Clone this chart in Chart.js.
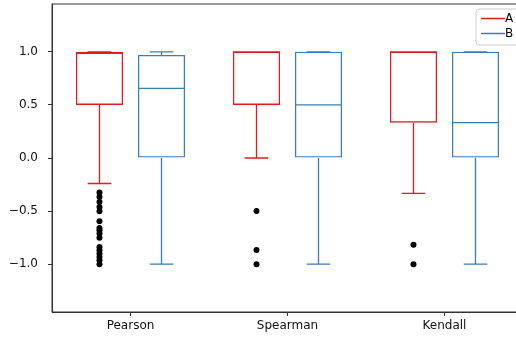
<!DOCTYPE html>
<html>
<head>
<meta charset="utf-8">
<script src="https://cdn.jsdelivr.net/npm/chart.js@4.4.1/dist/chart.umd.min.js"></script>
<style>
  html, body { margin: 0; padding: 0; overflow: hidden; background: #fff; }
  #wrap { width: 526px; height: 339px; }
</style>
</head>
<body>
<div id="wrap"><canvas id="boxChart" width="526" height="339"></canvas></div>
<script>
// kategorie a hodnoty krabicových grafů
const categories = ['Pearson', 'Spearman', 'Kendall'];
const seriesNames = ['A', 'B'];
const seriesColors = ['#e41a1c', '#377eb8'];
const yTicks = [-1.0, -0.5, 0.0, 0.5, 1.0];

const aLow = [-0.24, 0.0, -0.333];
const aQ1 = [0.5, 0.5, 0.333];
const aMedian = [0.985, 1.0, 1.0];
const aQ3 = [1.0, 1.0, 1.0];
const aHigh = [1.0, 1.0, 1.0];
const aOutliers = [
    [-0.326, -0.367, -0.414, -0.461, -0.502, -0.596, -0.658, -0.68, -0.712, -0.752,
     -0.837, -0.868, -0.9, -0.931, -0.962, -1.0],
    [-0.5, -0.866, -1.0],
    [-0.816, -1.0]
];

const bLow = [-1.0, -1.0, -1.0];
const bQ1 = [0.0, 0.0, 0.0];
const bMedian = [0.655, 0.5, 0.333];
const bQ3 = [0.97, 1.0, 1.0];
const bHigh = [1.0, 1.0, 1.0];
const bOutliers = [[], [], []];

const stats = [
    { low: aLow, q1: aQ1, med: aMedian, q3: aQ3, high: aHigh, out: aOutliers },
    { low: bLow, q1: bQ1, med: bMedian, q3: bQ3, high: bHigh, out: bOutliers }
];

const fmt = v => v.toFixed(1).replace('-', '\u2212');

// whiskery, mediány, odlehlé body, rámeček a legenda
const boxExtras = {
    id: 'boxExtras',
    afterDatasetsDraw(chart) {
        const ctx = chart.ctx;
        const y = chart.scales.y;
        const area = chart.chartArea;
        ctx.save();
        stats.forEach((s, i) => {
            const meta = chart.getDatasetMeta(i);
            meta.data.forEach((bar, j) => {
                const x = bar.x, w = bar.width;
                ctx.strokeStyle = seriesColors[i];
                ctx.lineWidth = 1.3;
                ctx.beginPath();
                // median
                ctx.moveTo(x - w / 2, y.getPixelForValue(s.med[j]));
                ctx.lineTo(x + w / 2, y.getPixelForValue(s.med[j]));
                // whiskers
                ctx.moveTo(x, y.getPixelForValue(s.q1[j]));
                ctx.lineTo(x, y.getPixelForValue(s.low[j]));
                ctx.moveTo(x, y.getPixelForValue(s.q3[j]));
                ctx.lineTo(x, y.getPixelForValue(s.high[j]));
                // caps
                ctx.moveTo(x - w / 4, y.getPixelForValue(s.low[j]));
                ctx.lineTo(x + w / 4, y.getPixelForValue(s.low[j]));
                ctx.moveTo(x - w / 4, y.getPixelForValue(s.high[j]));
                ctx.lineTo(x + w / 4, y.getPixelForValue(s.high[j]));
                ctx.stroke();
                ctx.fillStyle = '#000';
                s.out[j].forEach(v => {
                    ctx.beginPath();
                    ctx.arc(x, y.getPixelForValue(v), 3, 0, Math.PI * 2);
                    ctx.fill();
                });
            });
        });

        // rámeček
        ctx.strokeStyle = '#333';
        ctx.lineWidth = 1;
        ctx.strokeRect(area.left, area.top, area.right - area.left, area.bottom - area.top);

        // legenda
        const lx = area.right - 47, ly = area.top + 5;
        ctx.fillStyle = 'rgba(255,255,255,0.85)';
        ctx.strokeStyle = '#cccccc';
        ctx.beginPath();
        ctx.roundRect(lx, ly, 60, 36, 3);
        ctx.fill();
        ctx.stroke();
        ctx.font = '12px "DejaVu Sans"';
        ctx.textBaseline = 'middle';
        seriesNames.forEach((name, i) => {
            const yy = ly + 9.5 + i * 15;
            ctx.strokeStyle = seriesColors[i];
            ctx.lineWidth = 1.5;
            ctx.beginPath();
            ctx.moveTo(lx + 5, yy);
            ctx.lineTo(lx + 29, yy);
            ctx.stroke();
            ctx.fillStyle = '#000';
            ctx.fillText(name, lx + 29, yy);
        });
        ctx.restore();
    }
};

const ctxBox = document.getElementById('boxChart').getContext('2d');
new Chart(ctxBox, {
    type: 'bar',
    data: {
        labels: categories,
        datasets: stats.map((s, i) => ({
            label: seriesNames[i],
            data: s.q1.map((q, j) => [q, s.q3[j]]),
            backgroundColor: 'rgba(0,0,0,0)',
            borderColor: seriesColors[i],
            borderWidth: 1.3,
            borderSkipped: false,
            categoryPercentage: 0.79,
            barPercentage: 0.76
        }))
    },
    options: {
        responsive: false,
        animation: false,
        layout: { padding: { top: 4, right: 3, bottom: 0, left: 0 } },
        plugins: { legend: { display: false }, tooltip: { enabled: false } },
        scales: {
            x: {
                afterFit: scale => { scale.height = 27; scale.paddingLeft = 0; scale.paddingRight = 0; },
                grid: { display: true, offset: false, drawOnChartArea: false, drawTicks: true, tickLength: 4, color: '#333' },
                border: { display: true, color: '#333' },
                ticks: { color: '#111', font: { family: 'DejaVu Sans', size: 12 }, padding: 3 }
            },
            y: {
                min: -1.45,
                max: 1.45,
                afterBuildTicks: scale => { scale.ticks = yTicks.map(v => ({ value: v })); },
                afterFit: scale => { scale.width = 52; scale.paddingTop = 0; scale.paddingBottom = 0; },
                grid: { display: true, drawOnChartArea: false, drawTicks: true, tickLength: 4, color: '#333' },
                border: { display: true, color: '#333' },
                ticks: { color: '#111', font: { family: 'DejaVu Sans', size: 12 }, padding: 10, callback: v => fmt(v) }
            }
        }
    },
    plugins: [boxExtras]
});
</script>
</body>
</html>
